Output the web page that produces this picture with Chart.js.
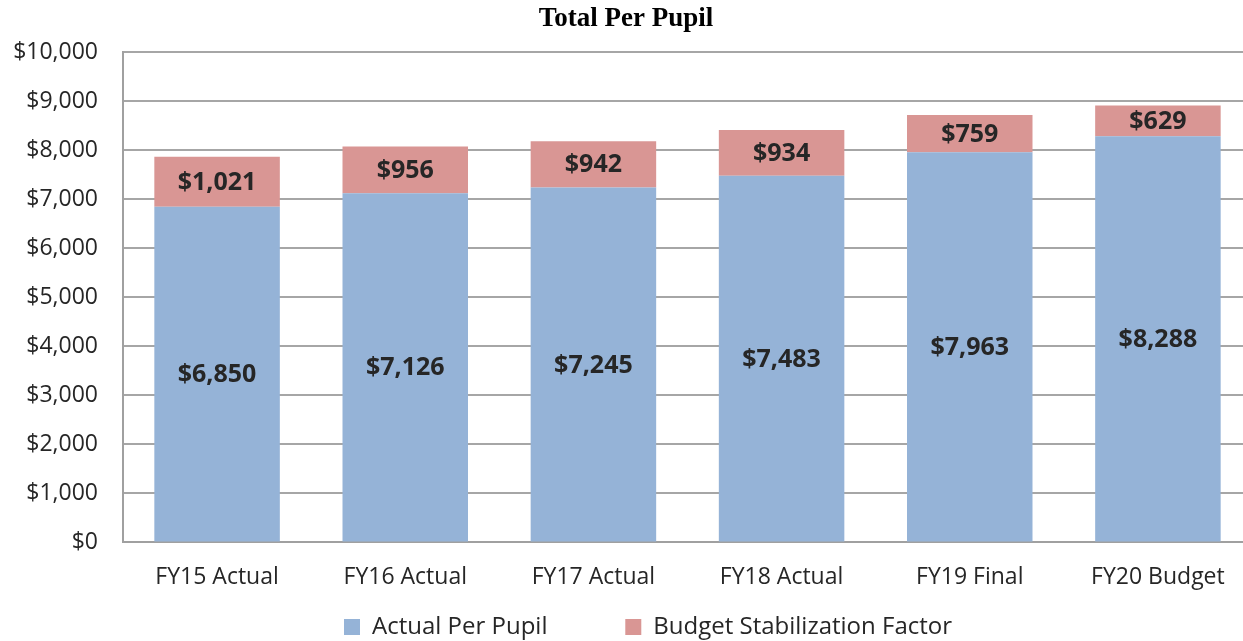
<!DOCTYPE html>
<html>
<head>
<meta charset="utf-8">
<script src="https://cdn.jsdelivr.net/npm/chart.js@4/dist/chart.umd.min.js"></script>
<style>
  html, body { margin: 0; padding: 0; background: #ffffff; overflow: hidden; }
  .wrap { width: 1252px; height: 641px; position: relative; }
</style>
</head>
<body>
<div class="wrap"><canvas id="perPupil"></canvas></div>
<script>
const categories = ["FY15 Actual", "FY16 Actual", "FY17 Actual", "FY18 Actual", "FY19 Final", "FY20 Budget"];
const actualPerPupil = [6850, 7126, 7245, 7483, 7963, 8288];
const stabilization = [1021, 956, 942, 934, 759, 629];
const seriesNames = ["Actual Per Pupil", "Budget Stabilization Factor"];

const money = (v) => "$" + Number(v).toLocaleString("en-US");
const sans = "'Open Sans', sans-serif";

// draws the value in the middle of each bar segment
const segmentLabels = {
  id: "segmentLabels",
  afterDatasetsDraw(chart) {
    const ctx = chart.ctx;
    ctx.save();
    ctx.font = "bold 25px " + sans;
    ctx.fillStyle = "#262626";
    ctx.textAlign = "center";
    ctx.textBaseline = "middle";
    chart.data.datasets.forEach((ds, i) => {
      chart.getDatasetMeta(i).data.forEach((bar, j) => {
        const mid = (bar.y + bar.base) / 2;
        ctx.fillText(money(ds.data[j]), bar.x, mid + 1);
      });
    });
    ctx.restore();
  }
};

// nudge the legend right and down, like the original
const legendShift = {
  id: "legendShift",
  afterLayout(chart) {
    chart.legend.left += 22;
    chart.legend.right += 22;
    chart.legend.top += 8;
    chart.legend.bottom += 8;
  }
};

new Chart(document.getElementById("perPupil"), {
  type: "bar",
  data: {
    labels: categories,
    datasets: [
      {
        label: seriesNames[0],
        data: actualPerPupil,
        backgroundColor: "#95b3d7",
        categoryPercentage: 0.667,
        barPercentage: 1.0
      },
      {
        label: seriesNames[1],
        data: stabilization,
        backgroundColor: "#d99694",
        categoryPercentage: 0.667,
        barPercentage: 1.0
      }
    ]
  },
  plugins: [segmentLabels, legendShift],
  options: {
    responsive: true,
    maintainAspectRatio: false,
    animation: false,
    layout: { padding: 0 },
    plugins: {
      title: {
        display: true,
        text: "Total Per Pupil",
        color: "#000000",
        font: { family: "'Liberation Serif', serif", size: 27, weight: "bold" },
        padding: { top: 3, bottom: 17 }
      },
      legend: {
        position: "bottom",
        labels: {
          color: "#262626",
          font: { family: sans, size: 24 },
          boxWidth: 16,
          boxHeight: 16,
          padding: 3,
          generateLabels(chart) {
            const items = Chart.defaults.plugins.legend.labels.generateLabels(chart);
            items[0].text += "            ";
            return items;
          }
        }
      },
      tooltip: { enabled: false }
    },
    scales: {
      x: {
        stacked: true,
        grid: { display: false },
        border: { color: "#a0a0a0", width: 2 },
        ticks: {
          color: "#262626",
          font: { family: sans, size: 23 },
          padding: 13,
          maxRotation: 0
        }
      },
      y: {
        stacked: true,
        min: 0,
        max: 10000,
        afterFit(scale) { scale.width = 123; },
        grid: { color: "#a6a6a6", lineWidth: 2, drawTicks: false },
        border: { color: "#a0a0a0", width: 2 },
        ticks: {
          stepSize: 1000,
          color: "#262626",
          font: { family: sans, size: 23 },
          padding: 25,
          callback: (v) => money(v)
        }
      }
    }
  }
});
</script>
</body>
</html>
